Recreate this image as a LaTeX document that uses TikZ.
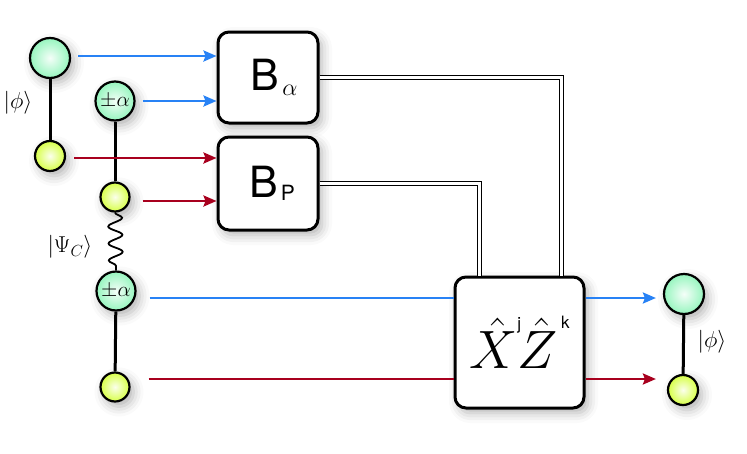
\RequirePackage{fix-cm}
\documentclass[tikz,border=0pt]{standalone}
\usepackage{fontspec}
\setsansfont{TeX Gyre Heros}
\usetikzlibrary{shadows.blur,decorations.pathmorphing,arrows.meta}
\definecolor{qgreen}{RGB}{150,245,190}
\definecolor{qyellow}{RGB}{215,255,70}
\definecolor{qblue}{RGB}{40,130,245}
\definecolor{qred}{RGB}{168,0,30}
\tikzset{
  sh/.style={blur shadow={shadow xshift=4pt,shadow yshift=-5pt,shadow blur radius=10pt,shadow opacity=30}},
  gq/.style={circle,draw=black,line width=2.2pt,minimum size=40pt,inner sep=0pt,inner color=qgreen!10!white,outer color=qgreen,sh},
  aq/.style={gq,minimum size=39pt,font=\fontsize{21}{21}\selectfont},
  yq/.style={circle,draw=black,line width=2.2pt,minimum size=30pt,inner sep=0pt,inner color=qyellow!10!white,outer color=qyellow,sh},
  gate/.style={draw=black,line width=3pt,rounded corners=11pt,fill=white,inner sep=0pt,sh},
  bond/.style={line width=3pt,black},
  wavy/.style={line width=1.8pt,black,decorate,decoration={snake,segment length=17pt,amplitude=7pt}},
  barr/.style={line width=2.4pt,qblue,-{Stealth[length=13pt,width=11pt,inset=2pt]}},
  rarr/.style={line width=2.4pt,qred,-{Stealth[length=13pt,width=11pt,inset=2pt]}},
  bline/.style={line width=2.4pt,qblue},
  rline/.style={line width=2.4pt,qred},
  dbl/.style={line width=1.4pt,double=white,double distance=2.6pt},
  lab/.style={inner sep=0pt,font=\fontsize{23}{23}\selectfont}
}
\begin{document}
\begin{tikzpicture}[x=1pt,y=-1pt]
\useasboundingbox (0,0) rectangle (747,453);
% gates
\node[gate,minimum width=100pt,minimum height=91pt] (Ba) at (268,77.5)
  {\hspace*{12pt}{\fontsize{43}{43}\selectfont\sffamily B}\hspace{3pt}\raisebox{-5pt}{\fontsize{24}{24}\selectfont$\alpha$}};
\node[gate,minimum width=100pt,minimum height=93pt] (Bp) at (268,183.5)
  {\hspace*{8pt}{\fontsize{43}{43}\selectfont\sffamily B}\hspace{3pt}\raisebox{-3pt}{\fontsize{21}{21}\selectfont\sffamily P}};
\node[gate,minimum width=129pt,minimum height=131pt] (XZ) at (519.5,342.5)
  {\fontsize{54}{54}\selectfont$\hat{X}$\raisebox{39pt}{\fontsize{17}{17}\selectfont\sffamily j}\hspace{-4pt}$\hat{Z}$\hspace{4pt}\raisebox{40pt}{\fontsize{17}{17}\selectfont\sffamily k}};
% qubits
\node[gq] (g1) at (50,58) {};
\node[yq] (y1) at (50,156) {};
\node[aq] (a1) at (115,101) {$\pm\alpha$};
\node[yq,minimum size=29pt] (y2) at (115,197) {};
\node[aq] (a2) at (116,291) {$\pm\alpha$};
\node[yq,minimum size=29pt] (y3) at (115,387) {};
\node[gq] (g2) at (684,294) {};
\node[yq] (y4) at (683,390) {};
% bonds
\draw[bond] (g1) -- (y1);
\draw[bond] (a1) -- (y2);
\draw[bond] (a2) -- (y3);
\draw[bond] (g2) -- (y4);
\draw[wavy] (y2.south) -- (a2.north);
% labels
\node[lab] (lphi1) at (18,103) {$|\phi\rangle$};
\node[lab] (lpsi) at (70,247) {$|\Psi_{C}\rangle$};
\node[lab] (lphi2) at (712,342) {$|\phi\rangle$};
% arrows into measurement boxes
\draw[barr] ([xshift=7pt,yshift=2pt]g1.east) -- ([yshift=2pt]g1.east -| Ba.west);
\draw[barr] ([xshift=7pt]a1.east) -- (a1.east -| Ba.west);
\draw[rarr] ([xshift=8pt,yshift=-2pt]y1.east) -- ([yshift=-2pt]y1.east -| Bp.west);
\draw[rarr] ([xshift=12pt,yshift=-4pt]y2.east) -- ([yshift=-4pt]y2.east -| Bp.west);
% lines through correction box
\coordinate (bl) at ([yshift=-7pt]a2.east);
\coordinate (rl) at ([yshift=8pt]y3.east);
\draw[bline] ([xshift=13pt]bl) -- (bl -| XZ.west);
\draw[rline] ([xshift=18pt]rl) -- (rl -| XZ.west);
\draw[barr] (bl -| XZ.east) -- ([xshift=-7pt]bl -| g2.west);
\draw[rarr] (rl -| XZ.east) -- ([xshift=-11pt]rl -| y4.west);
% classical wires
\draw[dbl] (Ba.east) -| ([xshift=-24pt]XZ.north east);
\draw[dbl] (Bp.east) -| ([xshift=26pt]XZ.north west);
\end{tikzpicture}
\end{document}
